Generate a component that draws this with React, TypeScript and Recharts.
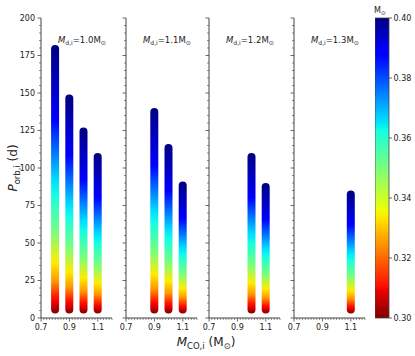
import React from 'react';
import { BarChart, Bar, XAxis, YAxis } from 'recharts';

// initial donor mass of each panel (Msun)
const PANEL_MD = ['1.0', '1.1', '1.2', '1.3'];

// initial CO core mass per panel and top of the P_orb range (d)
const MCO_1 = [0.8, 0.9, 1.0, 1.1];
const PTOP_1 = [182, 149, 127, 110];
const MCO_2 = [0.9, 1.0, 1.1];
const PTOP_2 = [140, 116, 91];
const MCO_3 = [1.0, 1.1];
const PTOP_3 = [110, 90];
const MCO_4 = [1.1];
const PTOP_4 = [85];
const P_MIN = 3;

const X_MAJOR = [0.7, 0.9, 1.1];
const Y_MAJOR = [0, 25, 50, 75, 100, 125, 150, 175, 200];
const CB_TICKS = [0.30, 0.32, 0.34, 0.36, 0.38, 0.40];
const CB_RANGE = [0.30, 0.40];

const X_MINOR = Array.from({ length: 26 }, (_, i) => +(0.7 + i * 0.02).toFixed(2));
const Y_MINOR = Array.from({ length: 41 }, (_, i) => i * 5);

// jet colormap stops (t -> colour)
const JET: [number, string][] = [
  [0, '#000080'], [0.11, '#0000ff'], [0.125, '#0000ff'], [0.34, '#00dbff'],
  [0.35, '#00e5f7'], [0.375, '#14ffe2'], [0.5, '#7bff7b'], [0.64, '#eeff08'],
  [0.65, '#f7f500'], [0.66, '#ffec00'], [0.89, '#ff1300'], [0.91, '#e80000'],
  [1, '#800000'],
];
// stripe colouring, top (0) to bottom (1)
const STRIPE: [number, string][] = [
  [0, '#000080'], [0.28, '#0000ff'], [0.5, '#00dbff'], [0.56, '#14ffe2'],
  [0.7, '#7bff7b'], [0.81, '#ffec00'], [0.88, '#ff9700'], [0.94, '#ff1300'],
  [0.96, '#e80000'], [1, '#800000'],
];

const FONT = '"DejaVu Sans", sans-serif';
const INK = '#222';
const SPINE = '#444';
const TICK_FS = 8;
const PANEL_LEFT = [41, 126, 209, 294];
const PANEL_W = 71;
const TOP = 18;
const H = 356;
const XAXIS_H = 38;
const YAXIS_W = 40;

const panels = [
  { m: MCO_1, p: PTOP_1 },
  { m: MCO_2, p: PTOP_2 },
  { m: MCO_3, p: PTOP_3 },
  { m: MCO_4, p: PTOP_4 },
].map(({ m, p }) => m.map((v, i) => ({ m: v, p: [P_MIN, p[i]] })));

const near = (a: number, list: number[]) => list.some((b) => Math.abs(a - b) < 1e-6);

const XTick = (props: any) => {
  const { x, y, payload } = props;
  const major = near(payload.value, X_MAJOR);
  return (
    <g>
      <line x1={x} x2={x} y1={y} y2={y + (major ? 3.5 : 2)} stroke={SPINE} strokeWidth={major ? 0.8 : 0.6} />
      {major && (
        <text x={x} y={y + 11.5} textAnchor="middle" fontSize={TICK_FS} fontFamily={FONT} fill={INK}>
          {payload.value.toFixed(1)}
        </text>
      )}
    </g>
  );
};

const YTick = (props: any) => {
  const { x, y, payload, showLabel } = props;
  const major = near(payload.value, Y_MAJOR);
  return (
    <g>
      <line x1={x} x2={x - (major ? 3.5 : 2)} y1={y} y2={y} stroke={SPINE} strokeWidth={major ? 0.8 : 0.6} />
      {major && showLabel && (
        <text x={x - 6} y={y + 2.9} textAnchor="end" fontSize={TICK_FS} fontFamily={FONT} fill={INK}>
          {payload.value}
        </text>
      )}
    </g>
  );
};

const CbTick = (props: any) => {
  const { x, y, payload } = props;
  return (
    <g>
      <line x1={x} x2={x + 3} y1={y} y2={y} stroke={SPINE} strokeWidth={0.8} />
      <text x={x + 4.5} y={y + 2.9} textAnchor="start" fontSize={TICK_FS} fontFamily={FONT} fill={INK}>
        {payload.value.toFixed(2)}
      </text>
    </g>
  );
};

const Stripe = (props: any) => {
  const { x, y, width, height, gid } = props;
  if (height == null || isNaN(y) || isNaN(x)) return null;
  const cx = x + width / 2;
  return <rect x={cx - 4} y={y} width={8} height={height} rx={4} ry={4} fill={`url(#${gid})`} />;
};

function Panel({ idx }: { idx: number }) {
  const gid = `stripe-${idx}`;
  return (
    <div style={{ position: 'absolute', left: PANEL_LEFT[idx] - YAXIS_W, top: 0 }}>
      <BarChart
        width={YAXIS_W + PANEL_W + 4}
        height={H}
        data={panels[idx]}
        margin={{ top: TOP, right: 4, bottom: 0, left: 0 }}
      >
        <defs>
          <linearGradient id={gid} x1="0" y1="0" x2="0" y2="1">
            {STRIPE.map(([o, c]) => (
              <stop key={o} offset={o} stopColor={c} />
            ))}
          </linearGradient>
        </defs>
        <XAxis
          xAxisId="b"
          dataKey="m"
          type="number"
          domain={[0.7, 1.2]}
          allowDataOverflow
          ticks={X_MINOR}
          interval={0}
          tickSize={0}
          tickMargin={0}
          tickLine={false}
          tick={(p: any) => <XTick {...p} />}
          axisLine={{ stroke: SPINE }}
          height={XAXIS_H}
        />
        <XAxis
          xAxisId="t"
          orientation="top"
          type="number"
          domain={[0.7, 1.2]}
          height={0}
          tick={false}
          tickLine={false}
          axisLine={{ stroke: SPINE }}
        />
        <YAxis
          yAxisId="l"
          type="number"
          domain={[0, 200]}
          ticks={Y_MINOR}
          interval={0}
          tickSize={0}
          tickMargin={0}
          tickLine={false}
          tick={(p: any) => <YTick {...p} showLabel={idx === 0} />}
          axisLine={{ stroke: SPINE }}
          width={YAXIS_W}
        />
        <YAxis
          yAxisId="r"
          orientation="right"
          type="number"
          domain={[0, 200]}
          width={0}
          tick={false}
          tickLine={false}
          axisLine={{ stroke: SPINE }}
        />
        <Bar
          xAxisId="b"
          yAxisId="l"
          dataKey="p"
          barSize={8}
          isAnimationActive={false}
          shape={(p: any) => <Stripe {...p} gid={gid} />}
        />
      </BarChart>
    </div>
  );
}

function ColorBar() {
  return (
    <div style={{ position: 'absolute', left: 375, top: 0 }}>
      <BarChart
        width={14 + 36}
        height={H}
        data={[{ k: 'cb', v: CB_RANGE }]}
        margin={{ top: TOP, right: 0, bottom: XAXIS_H, left: 0 }}
        barCategoryGap={0}
      >
        <defs>
          <linearGradient id="cbar" x1="0" y1="0" x2="0" y2="1">
            {JET.map(([o, c]) => (
              <stop key={o} offset={o} stopColor={c} />
            ))}
          </linearGradient>
        </defs>
        <XAxis dataKey="k" hide />
        <YAxis
          orientation="right"
          type="number"
          domain={CB_RANGE}
          ticks={CB_TICKS}
          interval={0}
          tickSize={0}
          tickMargin={0}
          tickLine={false}
          axisLine={false}
          tick={(p: any) => <CbTick {...p} />}
          width={36}
        />
        <Bar
          dataKey="v"
          isAnimationActive={false}
          shape={(p: any) => (
            <rect x={p.x} y={p.y} width={p.width} height={p.height} fill="url(#cbar)" stroke={SPINE} strokeWidth={0.8} />
          )}
        />
      </BarChart>
    </div>
  );
}

export default function App() {
  return (
    <div style={{ position: 'absolute', left: 0, top: 0, width: 415, height: H, background: '#fff' }}>
      {PANEL_MD.map((_, i) => (
        <Panel key={i} idx={i} />
      ))}
      <ColorBar />
      <svg width={415} height={H} style={{ position: 'absolute', left: 0, top: 0, pointerEvents: 'none' }}>
        {PANEL_MD.map((md, i) => (
          <text key={md} x={PANEL_LEFT[i] + 17} y={43} fontSize={8.5} fontFamily={FONT} fill={INK}>
            <tspan fontStyle="italic">M</tspan>
            <tspan fontSize={6} dy={1.8}>d,i</tspan>
            <tspan dy={-1.8}>={md}M</tspan>
            <tspan fontSize={6} dy={1.8}>⊙</tspan>
          </text>
        ))}
        <text
          x={17}
          y={168}
          transform="rotate(-90 17 168)"
          textAnchor="middle"
          fontSize={12}
          fontFamily={FONT}
          fill={INK}
        >
          <tspan fontStyle="italic">P</tspan>
          <tspan fontSize={8.5} dy={2.5}>orb,i</tspan>
          <tspan dy={-2.5}> (d)</tspan>
        </text>
        <text x={206} y={346} textAnchor="middle" fontSize={12} fontFamily={FONT} fill={INK}>
          <tspan fontStyle="italic">M</tspan>
          <tspan fontSize={8.5} dy={2.5}>CO,i</tspan>
          <tspan dy={-2.5}> (M</tspan>
          <tspan fontSize={8.5} dy={2.5}>⊙</tspan>
          <tspan dy={-2.5}>)</tspan>
        </text>
        <text x={374} y={13} fontSize={8} fontFamily={FONT} fill={INK}>
          M<tspan fontSize={5.5} dy={1.5}>⊙</tspan>
        </text>
      </svg>
    </div>
  );
}
